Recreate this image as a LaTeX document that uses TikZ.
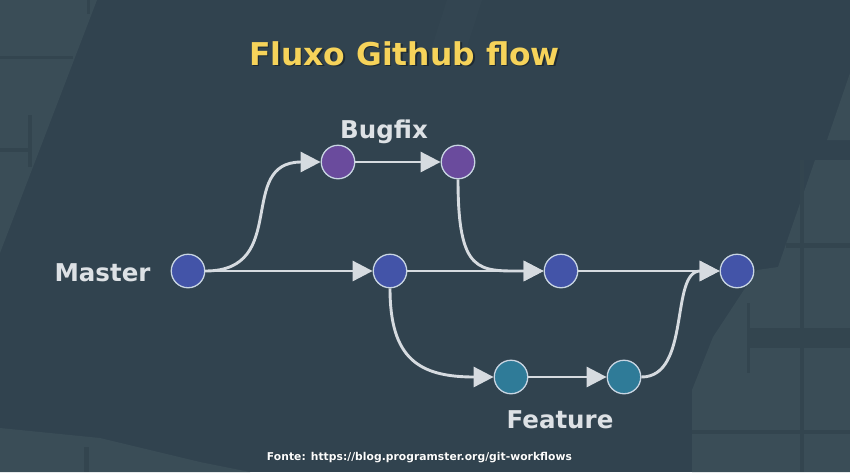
\documentclass[tikz,border=0pt]{standalone}
\usepackage{fontspec}
\setmainfont{DejaVu Sans}
\usetikzlibrary{arrows.meta}
\definecolor{bgdark}{HTML}{31434F}
\definecolor{bglight}{HTML}{3A4D57}
\definecolor{gridc}{HTML}{33454F}
\definecolor{linec}{HTML}{D6DBE0}
\definecolor{nodeblue}{HTML}{4354A8}
\definecolor{nodepurple}{HTML}{6A4B9D}
\definecolor{nodeteal}{HTML}{2F7B98}
\definecolor{rimc}{HTML}{C8D5E2}
\definecolor{titley}{HTML}{F6D35A}
\definecolor{shadowc}{HTML}{1E2A32}
\definecolor{labelc}{HTML}{DDE1E5}
\begin{document}
\begin{tikzpicture}[x=1pt,y=-1pt,
  commit/.style={circle, draw=rimc, line width=1.3pt, minimum size=33.5pt, inner sep=0pt},
  blue commit/.style={commit, fill=nodeblue},
  purple commit/.style={commit, fill=nodepurple},
  teal commit/.style={commit, fill=nodeteal},
  conn/.style={draw=linec, line width=2.9pt, -{Triangle[length=20pt,width=20pt]}},
  branchlabel/.style={text=labelc, font=\bfseries\fontsize{24.5}{28}\selectfont, anchor=base, inner sep=0pt},
  gridline/.style={draw=gridc}
]
\useasboundingbox (0,0) rectangle (850,472);
% background
\fill[bgdark] (0,0) rectangle (850,472);
\fill[bglight] (0,0) -- (97,0) -- (0,253) -- cycle;
\fill[bglight] (0,428) -- (100,438) -- (200,462) -- (250,472) -- (0,472) -- cycle;
\fill[bglight] (850,73) -- (827,140) -- (850,140) -- cycle;
\fill[bglight] (815,160) -- (850,160) -- (850,472) -- (692,472) -- (692,390) -- (713,337) -- (757,270) -- (778,267) -- cycle;
\fill[bglight, opacity=0.25] (447,0) -- (482,0) -- (466,50) -- (431,50) -- cycle;
\draw[gridline, line width=3pt] (0,57) -- (73,57);
\draw[gridline, line width=4pt] (0,150) -- (30,150);
\draw[gridline, line width=4pt] (30,115) -- (30,167);
\draw[gridline, line width=3pt] (88,0) -- (88,14);
\draw[gridline, line width=5pt] (86,447) -- (86,472);
\draw[gridline, line width=5pt] (786,245) -- (850,245);
\draw[gridline, line width=4pt] (802,160) -- (802,472);
\fill[gridc] (747,328) rectangle (850,348);
\draw[gridline, line width=3pt] (748,303) -- (748,373);
\draw[gridline, line width=4pt] (692,432) -- (850,432);
% title
\node[anchor=base, inner sep=0pt, text=shadowc, font=\bfseries\fontsize{31.4}{36}\selectfont] (titleshadow) at (406,66.5) {Fluxo Github flow};
\node[anchor=base, inner sep=0pt, text=titley, font=\bfseries\fontsize{31.4}{36}\selectfont] (title) at (404.5,65) {Fluxo Github flow};
% commits
\node[blue commit] (m1) at (188,271) {};
\node[blue commit] (m2) at (390,271) {};
\node[blue commit] (m3) at (561,271) {};
\node[blue commit] (m4) at (737,271) {};
\node[purple commit] (b1) at (338,162) {};
\node[purple commit] (b2) at (458,162) {};
\node[teal commit] (f1) at (511,377) {};
\node[teal commit] (f2) at (624,377) {};
% labels
\node[branchlabel] (master) at (102.5,281.5) {Master};
\node[branchlabel] (bugfix) at (384,138) {Bugfix};
\node[branchlabel] (feature) at (560,428) {Feature};
% connectors
\draw[conn] (m1) -- (m2);
\draw[conn] (m1.east) .. controls +(85,0) and +(-85,0) .. (b1.west);
\draw[conn] (b1) -- (b2);
\draw[conn] (b2.south) .. controls +(0,95) and +(-65,0) .. (m3.west);
\draw[conn] (m2) -- (m3);
\draw[conn] (m2.south) .. controls +(0,70) and +(-75,0) .. (f1.west);
\draw[conn] (f1) -- (f2);
\draw[conn] (f2.east) .. controls +(50,0) and +(-50,0) .. (m4.west);
\draw[conn] (m3) -- (m4);
% source
\node[anchor=base, inner sep=0pt, text=shadowc, font=\bfseries\fontsize{10.8}{13}\selectfont] (srcshadow) at (420.3,460.8) {Fonte: https://blog.programster.org/git-workflows};
\node[anchor=base, inner sep=0pt, text=white!92!labelc, font=\bfseries\fontsize{10.8}{13}\selectfont] (src) at (419.5,460) {Fonte: https://blog.programster.org/git-workflows};
\end{tikzpicture}
\end{document}
